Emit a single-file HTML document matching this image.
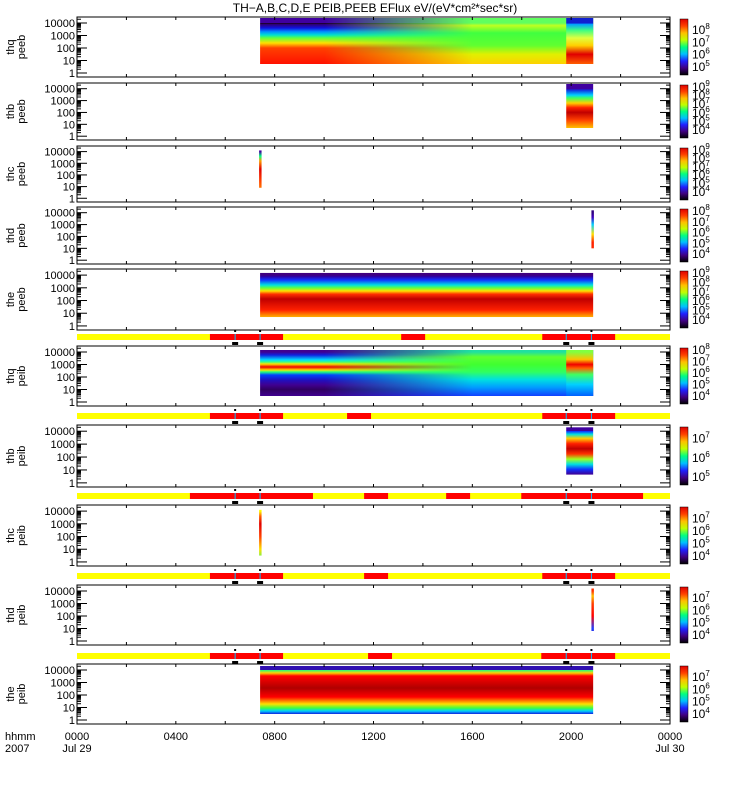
<!DOCTYPE html>
<html><head><meta charset="utf-8"><style>
body{margin:0;background:#fff;width:750px;height:800px;overflow:hidden}
svg{display:block;font-family:"Liberation Sans",sans-serif}
</style></head><body>
<svg id="c" width="750" height="800" xmlns="http://www.w3.org/2000/svg">
<defs id="defs"></defs>
<text x="375" y="12" font-size="12" text-anchor="middle">TH−A,B,C,D,E PEIB,PEEB EFlux eV/(eV*cm²*sec*sr)</text>
</svg>
<script>
// ---- data ----
const panelNames = [["thq","peeb"],["thb","peeb"],["thc","peeb"],["thd","peeb"],["the","peeb"],["thq","peib"],["thb","peib"],["thc","peib"],["thd","peib"],["the","peib"]];
const panelTop = [17,83,146,207,269,346,425,505,585,664];
const panelBot = [77,140,202,264,330,406,487,566,645,724];
const dataStartHr = [7.41,19.8,7.37,20.82,7.41,7.41,19.8,7.37,20.82,7.41];
const dataEndHr   = [20.89,20.89,7.47,20.92,20.89,20.89,20.89,7.47,20.92,20.89];
const dataLowE    = [0.72,0.69,0.9,1.0,0.7,0.48,0.64,0.5,0.8,0.48];
const dataHighE   = [4.4,4.47,4.1,4.2,4.17,4.16,4.3,4.1,4.2,4.32];
const cbarExps = [[5,6,7,8],[4,5,6,7,8,9],[4,5,6,7,8,9],[4,5,6,7,8],[4,5,6,7,8,9],[4,5,6,7,8],[5,6,7],[4,5,6,7],[4,5,6,7],[4,5,6,7]];
// spectrum colour stops: [log10 energy, colour], low energy to high
const specStops = [
 [[0.7,"#ff1000"],[2.0,"#ff4000"],[2.4,"#ffe000"],[2.8,"#60ff40"],[3.04,"#00e0d0"],[3.3,"#0090ff"],[3.6,"#1010e0"],[3.9,"#300070"],[4.08,"#100010"],[4.4,"#4000a0"]],
 [[0.69,"#ffc000"],[1.36,"#ff4000"],[2.0,"#c00000"],[2.4,"#ff2000"],[2.79,"#ffd000"],[3.21,"#40ff60"],[3.46,"#00d0ff"],[3.88,"#1030e0"],[4.47,"#4000a0"]],
 [[0,"#ffc000"],[1.5,"#ff4000"],[2.5,"#e00000"],[3.2,"#ffa000"],[3.6,"#00ff80"],[4.1,"#4000a0"]],
 [[0,"#ff4000"],[1.5,"#ff2000"],[2.2,"#ffe000"],[3.0,"#00d0ff"],[3.6,"#4000c0"],[4.2,"#300080"]],
 [[0.7,"#ffb000"],[1.25,"#ff2000"],[2.12,"#c00000"],[2.5,"#ff3000"],[2.75,"#ffe000"],[2.99,"#60ff40"],[3.22,"#00e0e0"],[3.62,"#1030ff"],[3.9,"#3000a0"],[4.17,"#400080"]],
 [[0.48,"#400090"],[1.0,"#300060"],[1.36,"#400090"],[1.76,"#2010c0"],[2.16,"#0040ff"],[2.4,"#20ff80"],[2.56,"#ffe000"],[2.8,"#f00000"],[3.04,"#ffe000"],[3.2,"#40ff80"],[3.36,"#00e0ff"],[3.76,"#1020e0"],[4.16,"#400090"]],
 [[0.64,"#400090"],[1.04,"#1030ff"],[1.44,"#00e0e0"],[1.84,"#a0ff20"],[2.24,"#ff3000"],[2.64,"#c00000"],[3.04,"#ff2000"],[3.44,"#ffd000"],[3.76,"#00e0e0"],[4.0,"#1030ff"],[4.3,"#4000a0"]],
 [[0,"#20ff80"],[1.0,"#ffe000"],[2.0,"#ff4000"],[3.0,"#e00000"],[3.6,"#ff6000"],[4.1,"#ffff00"]],
 [[0,"#4000a0"],[1.0,"#2040ff"],[2.0,"#ff0000"],[3.0,"#ff4000"],[3.6,"#ffc000"],[4.2,"#ff3000"]],
 [[0.48,"#1020e0"],[0.72,"#00d0ff"],[0.96,"#40ff40"],[1.28,"#ffe000"],[1.6,"#ff6000"],[1.84,"#ff0000"],[2.56,"#b00000"],[3.52,"#ff0000"],[3.76,"#ffd000"],[4.0,"#20ff80"],[4.32,"#3010b0"]]
];
// later-time spectra (fade in to the right), null if none
const specStopsLate = [
 [[0.7,"#ffd000"],[1.5,"#e0f000"],[2.2,"#60ff30"],[3.2,"#40ff40"],[3.8,"#c0ff20"],[4.4,"#60ff60"]],
 null,null,null,null,
 [[0.48,"#1040ff"],[1.2,"#00a0ff"],[1.8,"#00e0e0"],[2.4,"#30ff60"],[3.0,"#40ff30"],[3.6,"#60ff30"],[4.16,"#20e0a0"]],
 null,null,null,null
];
const lateFadeHr = [[10,16],null,null,null,null,[10,16],null,null,null,null];
// final-interval spectra
const endStartHr = [19.8,null,null,null,null,19.8,null,null,null,null];
const specStopsEnd = [
 [[0.7,"#ff6000"],[1.5,"#e00000"],[2.2,"#ffd000"],[2.8,"#e0ff40"],[3.4,"#40ff80"],[3.9,"#00a0ff"],[4.4,"#1020d0"]],
 null,null,null,null,
 [[0.48,"#0060ff"],[1.4,"#00d0ff"],[2.2,"#40ff60"],[2.7,"#ff6000"],[3.0,"#f00000"],[3.4,"#ffc000"],[4.16,"#80ff40"]],
 null,null,null,null
];
const barTop = [333,412,492,572,652];
const barRedStart = [[5.38,13.12,18.83],[5.38,10.93,18.83],[4.57,11.62,14.94,17.98],[5.38,11.62,18.83],[5.38,11.78,18.79]];
const barRedEnd   = [[8.34,14.09,21.78],[8.34,11.90,21.78],[9.55,12.59,15.91,22.91],[8.34,12.59,21.78],[8.34,12.75,21.78]];
const markerHr = [6.4,7.41,19.8,20.82];
const xTickHr = [0,4,8,12,16,20,24];
const xTickLbl = ["0000","0400","0800","1200","1600","2000","0000"];
const xTickSub = ["Jul 29","","","","","","Jul 30"];
// ---- scales ----
const X0=77,X1=670,EMIN=-0.32,EMAX=4.48;
const xs=h=>X0+h*(X1-X0)/24;
const ys=(i,e)=>panelBot[i]-(e-EMIN)/(EMAX-EMIN)*(panelBot[i]-panelTop[i]);
const NS="http://www.w3.org/2000/svg",svg=document.getElementById('c'),defs=document.getElementById('defs');
function mk(t,a,p){const e=document.createElementNS(NS,t);for(const k in a)e.setAttribute(k,a[k]);(p||svg).appendChild(e);return e;}
function grad(id,i,stops){
  const lg=mk('linearGradient',{id:id,gradientUnits:'userSpaceOnUse',x1:0,x2:0,y1:ys(i,0),y2:ys(i,4)},defs);
  stops.forEach(s=>mk('stop',{offset:s[0]/4,'stop-color':s[1]},lg));
}
const cbStops=["#000000","#400080","#2020ff","#00c0ff","#00ff80","#c0ff00","#ffc000","#ff4000","#e00000"];
const cg=mk('linearGradient',{id:'cbar',x1:0,y1:1,x2:0,y2:0},defs);
cbStops.forEach((c,k)=>mk('stop',{offset:k/(cbStops.length-1),'stop-color':c},cg));
panelNames.forEach((nm,i)=>{
  const t=panelTop[i],b=panelBot[i];
  const g=mk('g',{});
  
  
  grad('sg'+i,i,specStops[i]);
  const yA=Math.max(t+1,ys(i,dataHighE[i])),yB=ys(i,dataLowE[i]);
  const xA=xs(dataStartHr[i]),w=Math.max(2,xs(dataEndHr[i])-xA);
  const r=mk('rect',{x:xA,y:yA,width:w,height:yB-yA,fill:'url(#sg'+i+')'},g);
  
  
  if(specStopsLate[i]){
    grad('sl'+i,i,specStopsLate[i]);
    const mg=mk('linearGradient',{id:'mg'+i,gradientUnits:'userSpaceOnUse',x1:xs(lateFadeHr[i][0]),x2:xs(lateFadeHr[i][1]),y1:0,y2:0},defs);
    mk('stop',{offset:0,'stop-color':'#fff','stop-opacity':0},mg);mk('stop',{offset:1,'stop-color':'#fff','stop-opacity':1},mg);
    const m=mk('mask',{id:'mk'+i},defs);
    mk('rect',{x:0,y:0,width:750,height:800,fill:'url(#mg'+i+')'},m);
    const r2=mk('rect',{x:xA,y:yA,width:w,height:yB-yA,fill:'url(#sl'+i+')',mask:'url(#mk'+i+')'},g);
    
  }
  if(specStopsEnd[i]){
    grad('se'+i,i,specStopsEnd[i]);
    const xe=xs(endStartHr[i]);
    const r3=mk('rect',{x:xe,y:yA,width:xs(dataEndHr[i])-xe,height:yB-yA,fill:'url(#se'+i+')'},g);
    
  }
  mk('rect',{x:X0,y:t,width:X1-X0,height:b-t,fill:'none',stroke:'#000','stroke-width':1},g);
  for(let d=0;d<=4;d++){
    for(let m=1;m<=9;m++){
      const e=d+Math.log10(m);if(e>EMAX)break;const y=ys(i,e);
      const L=m==1?10:4;
      mk('line',{x1:X0,x2:X0+L,y1:y,y2:y,stroke:'#000'},g);
      mk('line',{x1:X1,x2:X1-L,y1:y,y2:y,stroke:'#000'},g);
    }
    const tx=mk('text',{x:X0-2,y:ys(i,d)+4,'font-size':11,'text-anchor':'end'},g);tx.textContent=String(Math.pow(10,d));
    
  }
  for(let h=2;h<24;h+=2){mk('line',{x1:xs(h),x2:xs(h),y1:t,y2:t+3,stroke:'#000'},g);mk('line',{x1:xs(h),x2:xs(h),y1:b,y2:b-3,stroke:'#000'},g);}
  const yt=mk('text',{transform:`translate(14,${(t+b)/2}) rotate(-90)`,'font-size':11,'text-anchor':'middle'},g);yt.textContent=nm[0];
  
  const yt2=mk('text',{transform:`translate(25,${(t+b)/2}) rotate(-90)`,'font-size':11,'text-anchor':'middle'},g);yt2.textContent=nm[1];
  
  const cb=mk('rect',{x:680,y:t+2,width:8,height:b-t-4,fill:'url(#cbar)',stroke:'#000','stroke-width':0.5},g);
  
  const ex=cbarExps[i],n=ex.length;
  ex.forEach((p,k)=>{
    const y=b-6-k*(b-t-14)/Math.max(n-1,1)*(n>4?1:0.8);
    const tx=mk('text',{x:692,y:y,'font-size':12},g);
    tx.textContent='10';const s=mk('tspan',{dy:-5,'font-size':8},tx);s.textContent=String(p);
    
  });
});
barTop.forEach((bt,j)=>{
  const g=mk('g',{});
  
  
  mk('rect',{x:X0,y:bt+1,width:X1-X0,height:6,fill:'#ffff00'},g);
  barRedStart[j].forEach((s,k)=>{const r=mk('rect',{x:xs(s),y:bt+1,width:xs(barRedEnd[j][k])-xs(s),height:6,fill:'#ff0000'},g);
    });
  markerHr.forEach(h=>{
    mk('rect',{x:xs(h)-3,y:bt+9,width:6,height:3,fill:'#000'},g);
    mk('rect',{x:xs(h)-1,y:bt-3,width:2,height:2,fill:'#000'},g);
    mk('line',{x1:xs(h),x2:xs(h),y1:bt+1,y2:bt+7,stroke:'#00c0ff','stroke-width':1},g);
  });
});
const hh=mk('text',{x:5,y:740,'font-size':11});hh.textContent='hhmm';
const yr=mk('text',{x:5,y:752,'font-size':11});yr.textContent='2007';
xTickHr.forEach((h,k)=>{
  const t=mk('text',{x:xs(h),y:740,'font-size':11,'text-anchor':'middle'});t.textContent=xTickLbl[k];
  
  if(xTickSub[k]){const s=mk('text',{x:xs(h),y:752,'font-size':11,'text-anchor':'middle'});s.textContent=xTickSub[k];
    }
});
</script>
</body></html>
